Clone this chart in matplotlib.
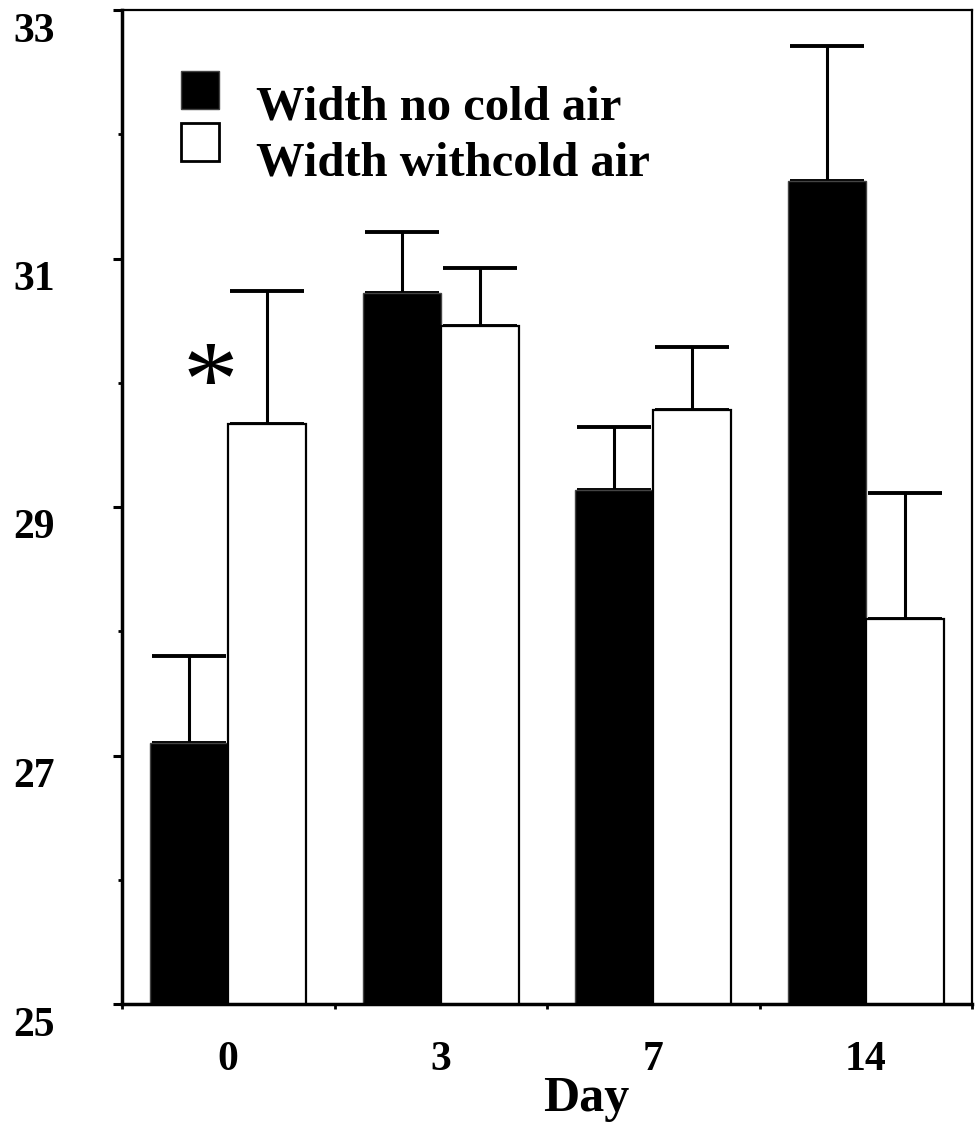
import matplotlib
matplotlib.use("Agg")
import matplotlib.pyplot as plt
import numpy as np
from matplotlib.patches import Rectangle
from matplotlib.transforms import ScaledTranslation

days = ["0", "3", "7", "14"]
no_cold = [27.10, 30.72, 29.14, 31.62]
no_cold_err = [0.70, 0.49, 0.50, 1.09]
with_cold = [29.67, 30.46, 29.78, 28.10]
with_cold_err = [1.07, 0.46, 0.51, 1.01]
labels = ["Width no cold air", "Width withcold air"]
yticks_major = [25, 27, 29, 31, 33]
yticks_minor = [26, 28, 30, 32]

FONT = "Liberation Serif"
plt.rcParams["font.family"] = [FONT, "DejaVu Serif"]
plt.rcParams["font.weight"] = "bold"

W, H = 976, 1124
fig = plt.figure(figsize=(W / 100, H / 100), dpi=100)
ax = fig.add_axes([122 / W, 120 / H, 850 / W, 994 / H])

x = np.arange(len(days))
w = 0.367
off = 0.183
err_kw = dict(elinewidth=2.2, capthick=2.8, capsize=26.5, ecolor="black")

ax.bar(x - off, no_cold, w, color="black", edgecolor="#444444",
       linewidth=1.0, zorder=2, label=labels[0])
ax.bar(x + off, with_cold, w, color="white", edgecolor="black",
       linewidth=1.6, zorder=2, label=labels[1])
ax.errorbar(x - off, no_cold, yerr=[np.zeros(4), no_cold_err], fmt="none",
            zorder=1, **err_kw)
ax.errorbar(x + off, with_cold, yerr=[np.zeros(4), with_cold_err], fmt="none",
            zorder=1, **err_kw)

ax.set_xlim(-0.5, 3.5)
ax.set_ylim(25, 33)

for s in ["left", "bottom"]:
    ax.spines[s].set_linewidth(2.5)
for s in ["top", "right"]:
    ax.spines[s].set_linewidth(1.6)

# y ticks
ax.set_yticks(yticks_major)
ax.set_yticks(yticks_minor, minor=True)
ax.set_yticklabels([str(v) for v in yticks_major])
ax.tick_params(axis="y", which="major", direction="out", length=6.5, width=2.2,
               pad=42, labelsize=30)
ax.tick_params(axis="y", which="minor", direction="out", length=3, width=2.0)
for lab in ax.get_yticklabels():
    lab.set_fontweight("bold")
    lab.set_transform(lab.get_transform() +
                      ScaledTranslation(0, -17 / 100, fig.dpi_scale_trans))

# x ticks: labels at centres, tick marks at group boundaries
ax.set_xticks(x)
ax.set_xticklabels(days)
ax.set_xticks(np.arange(-0.5, 3.6, 1.0), minor=True)
ax.tick_params(axis="x", which="major", length=0, pad=27, labelsize=30)
ax.tick_params(axis="x", which="minor", direction="out", length=3.5, width=2.0)
for lab in ax.get_xticklabels():
    lab.set_fontweight("bold")

# legend (drawn as key boxes + text in figure coordinates)
key_specs = [("black", "#444444", 1.0, 71, 120),
             ("white", "black", 2.0, 123, 175)]
for (fc, ec, lw, top, base), lab in zip(key_specs, labels):
    fig.add_artist(Rectangle((181 / W, 1 - (top + 38) / H), 38 / W, 38 / H,
                             transform=fig.transFigure, facecolor=fc,
                             edgecolor=ec, linewidth=lw))
    fig.text(256 / W, 1 - base / H, lab, ha="left", va="baseline",
             fontsize=35, fontweight="bold", family=FONT)

# significance marker
ax.text(-0.086, 29.95, "*", ha="center", va="center", fontsize=80,
        fontweight="normal", family=FONT)

# x-axis title
fig.text(586 / W, 1 - 1111 / H, "Day", ha="center", va="baseline",
         fontsize=36, fontweight="bold", family=FONT)

fig.savefig("out.png", dpi=100)
